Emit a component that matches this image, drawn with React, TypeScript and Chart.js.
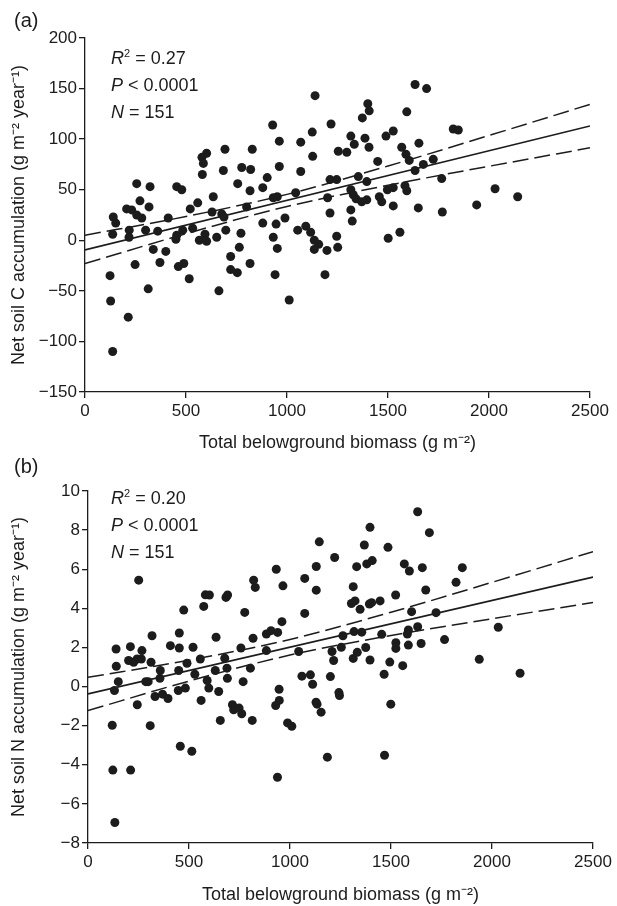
import React, { useEffect, useRef } from "react";
import { Chart, registerables } from "chart.js";

Chart.register(...registerables);

// ---------- Data ----------
// Panel (a): Net soil C accumulation vs total belowground biomass
const biomassA = [
  929, 1218, 962, 1125, 1068, 1316, 1254, 1296, 1127, 579, 602, 586, 693, 828, 581, 685, 776, 820, 962, 1068,
  902, 256, 322, 454, 479, 756, 817, 880, 1213, 1246, 1316, 635, 932, 952, 1043, 1201, 272, 317, 206, 231,
  256, 281, 140, 152, 412, 521, 558, 629, 677, 688, 800, 990, 880, 946, 1053, 1093, 1117, 1135, 1157, 1135,
  1198, 1246, 1251, 1316, 1323, 137, 219, 218, 300, 360, 454, 450, 484, 533, 566, 594, 602, 652, 697, 772,
  932, 952, 338, 400, 721, 764, 248, 371, 462, 489, 721, 754, 817, 124, 516, 941, 1188, 313, 663, 127,
  1011, 214, 137,
  1634, 1691, 1400, 1407, 1373, 1593, 1333, 1386, 1406, 1490, 1526, 1568, 1589, 1605, 1653, 1823, 1848, 1449,
  1724, 1675, 1634, 1353, 1395, 1766, 1328, 1342, 1370, 1395, 1457, 1469, 1497, 1526, 1584, 1593, 2030, 2142,
  1526, 1650, 1769, 1939, 1501, 1559, 1139, 1213,
];
const carbonA = [
  114, 115, 98, 107, 97, 103, 88, 87, 83, 82, 86, 76, 90, 90, 65, 69, 72, 70, 73, 68,
  62, 56, 53, 53, 50, 56, 49, 52, 60, 60, 50, 43, 42, 43, 47, 42, 39, 33, 31, 30,
  25, 22, 23, 17, 22, 31, 37, 28, 26, 23, 33, 22, 17, 16, 10, 14, 8, 0, -4, -9,
  -10, 4, -7, 30, 19, 6, 10, 3, 10, 9, 5, 1, 10, 12, 0, 6, -1, 3, 10, 7,
  3, -8, -9, -11, -16, -7, -24, -22, -26, -23, -29, -32, -23, -35, -38, -34, -34, -48, -50, -60,
  -59, -76, -110,
  154, 150, 135, 128, 121, 127, 95, 101, 92, 103, 108, 92, 85, 79, 96, 110, 109, 78,
  80, 75, 69, 63, 58, 61, 45, 41, 38, 40, 43, 38, 50, 52, 54, 49, 51, 43,
  34, 32, 28, 35, 2, 8, 143, 27,
];

// Panel (b): Net soil N accumulation vs total belowground biomass
const biomassB = [
  251, 474, 573, 581, 601, 683, 691, 776, 820, 828, 932, 965, 1073, 1130, 1130, 1145, 1221, 1304, 1073,
  317, 452, 408, 452, 520, 634, 757, 817, 883, 906, 939, 960, 883, 1043, 1208, 1216, 1254, 1262,
  139, 210, 201, 226, 243, 264, 267, 140, 312, 358, 449, 490, 556, 630, 677, 688, 804, 1059, 1101, 1200,
  1632, 1690, 1396, 1368, 1485, 1330, 1380, 1407, 1566, 1591, 1655, 1853, 1313, 1822, 1672, 1523, 1322,
  1347, 1393, 1404, 1446, 1602, 1723, 2031, 1317, 1355, 1454, 1586, 1581, 1632, 1765,
  1313, 1333, 1375, 1396, 1524, 1524, 1586, 1649, 1937, 2139, 150, 131, 286, 298, 356, 332, 369, 396, 244,
  447, 482, 529, 560, 590, 598, 647, 690, 655, 715, 721, 748, 761, 768, 813, 929, 946, 947, 988, 1009,
  1112, 1129, 1134, 1154, 1242, 1245, 1466, 1494, 1499, 1558, 120, 308, 457, 514, 1185, 1468, 123, 211,
  938, 133,
];
const nitrogenB = [
  5.44, 3.91, 4.1, 4.69, 4.68, 4.56, 4.68, 3.79, 5.44, 5.07, 6.0, 5.15, 5.53, 6.14, 4.93, 7.4, 6.6, 4.25, 3.74,
  2.6, 2.74, 2.09, 1.97, 2.01, 2.52, 1.97, 2.47, 2.69, 2.86, 2.77, 3.32, 1.84, 1.79, 1.79, 1.33, 2.01, 2.6,
  1.92, 2.04, 1.33, 1.24, 1.41, 1.41, 1.84, 1.04, 1.24, 0.82, 0.82, 1.19, 1.41, 0.82, 1.45, 0.94, 0.94, 0.53, 0.6, 0.51,
  8.94, 7.87, 8.14, 7.24, 7.12, 6.13, 6.27, 6.44, 6.27, 5.91, 6.08, 6.08, 5.11, 5.33, 4.94, 4.68, 4.38,
  3.95, 4.22, 4.29, 4.38, 3.83, 3.78, 3.03, 2.81, 2.78, 2.67, 2.89, 2.69, 3.06, 2.4,
  1.44, 1.75, 2.0, 1.36, 2.24, 1.95, 2.12, 2.2, 1.39, 0.68, 0.25, -0.2, 0.25, 0.25, 0.42, -0.51, -0.39, -0.61, -0.93,
  -0.2, -0.08, 0.63, -0.71, 0.31, -0.08, -0.25, 0.42, -1.73, -0.93, -1.19, -1.1, -1.39, 0.25, -1.73, -0.97, -0.14, -0.71, -1.86, -2.03,
  0.12, -0.8, -0.9, -1.31, -0.31, -0.46, 0.63, 1.25, -0.9, 1.07, -1.98, -2.0, -3.05, -3.31, -3.61, -3.51, -4.27, -4.27,
  -4.64, -6.95,
];

// Regression line (endpoints) and 95% confidence band
const fitX = [0, 2500];
const fitA = [-9.6, 113];
const fitB = [-0.38, 5.6];
const bandX = [0, 500, 1000, 1500, 2000, 2500];
const upperA = [5, 23.5, 45.4, 73.4, 103.6, 134.4];
const lowerA = [-23, 6.5, 33.4, 54.4, 73.2, 91.4];
const upperB = [0.47, 1.35, 2.41, 3.8, 5.33, 6.9];
const lowerB = [-1.23, 0.28, 1.61, 2.61, 3.47, 4.3];

// Tick labels
const xTicks = [0, 500, 1000, 1500, 2000, 2500];
const yTicksA = [-150, -100, -50, 0, 50, 100, 150, 200];
const yTicksB = [-8, -6, -4, -2, 0, 2, 4, 6, 8, 10];

const xTitle = "Total belowground biomass (g m\u207B\u00B2)";
const yTitleA = "Net soil C accumulation (g m\u207B\u00B2 year\u207B\u00B9)";
const yTitleB = "Net soil N accumulation (g m\u207B\u00B2 year\u207B\u00B9)";

// ---------- Styling ----------
const FONT = "'Liberation Sans', Arial, Helvetica, sans-serif";
const INK = "#1c1c1c";

type PanelProps = {
  xs: number[];
  ys: number[];
  fit: number[];
  upper: number[];
  lower: number[];
  yTicks: number[];
  yTitle: string;
  top: number;
  height: number;
  padTop: number;
  padRight: number;
  yAxisWidth: number;
  xAxisHeight: number;
  yTitlePad: number;
};

function toPts(xs: number[], ys: number[]) {
  return xs.map((x, i) => ({ x, y: ys[i] }));
}

function Panel(p: PanelProps) {
  const ref = useRef<HTMLCanvasElement | null>(null);
  useEffect(() => {
    if (!ref.current) return;
    const minus = (v: number | string) => String(v).replace("-", "\u2212");
    const lineDs = (data: any, dashed: boolean) => ({
      data,
      showLine: true,
      pointRadius: 0,
      borderColor: INK,
      borderWidth: dashed ? 1.5 : 1.7,
      borderDash: dashed ? [16, 6] : [],
      tension: dashed ? 0.4 : 0,
      cubicInterpolationMode: dashed ? "monotone" : "default",
      fill: false,
      order: 2,
    });
    const chart = new Chart(ref.current, {
      type: "scatter",
      data: {
        datasets: [
          {
            data: toPts(p.xs, p.ys),
            pointRadius: 4.5,
            pointBackgroundColor: INK,
            pointBorderColor: INK,
            pointBorderWidth: 0,
            order: 1,
          } as any,
          lineDs(toPts(fitX, p.fit), false),
          lineDs(toPts(bandX, p.upper), true),
          lineDs(toPts(bandX, p.lower), true),
        ],
      },
      options: {
        responsive: false,
        animation: false,
        layout: { padding: { left: 0, top: p.padTop, right: p.padRight, bottom: 0 } },
        plugins: { legend: { display: false }, tooltip: { enabled: false } },
        scales: {
          x: {
            type: "linear",
            min: xTicks[0],
            max: xTicks[xTicks.length - 1],
            afterBuildTicks: (s: any) => {
              s.ticks = xTicks.map((v) => ({ value: v }));
            },
            afterFit: (s: any) => {
              s.height = p.xAxisHeight;
            },
            ticks: {
              autoSkip: false,
              maxRotation: 0,
              padding: 3,
              color: INK,
              font: { family: FONT, size: 17 },
              callback: (v: any) => minus(v),
            },
            grid: { drawOnChartArea: false, drawTicks: true, tickLength: 6, color: INK, lineWidth: 1.3 },
            border: { display: true, color: INK, width: 1.3 },
            title: { display: true, text: xTitle, color: INK, font: { family: FONT, size: 18 }, padding: 0 },
          },
          y: {
            type: "linear",
            min: p.yTicks[0],
            max: p.yTicks[p.yTicks.length - 1],
            afterBuildTicks: (s: any) => {
              s.ticks = p.yTicks.map((v) => ({ value: v }));
            },
            afterFit: (s: any) => {
              s.width = p.yAxisWidth;
            },
            ticks: {
              autoSkip: false,
              padding: 2,
              color: INK,
              font: { family: FONT, size: 17 },
              callback: (v: any) => minus(v),
            },
            grid: { drawOnChartArea: false, drawTicks: true, tickLength: 6, color: INK, lineWidth: 1.3 },
            border: { display: true, color: INK, width: 1.3 },
            title: {
              display: true,
              text: p.yTitle,
              color: INK,
              font: { family: FONT, size: 18 },
              padding: { top: p.yTitlePad, bottom: 0 },
            },
          },
        },
      } as any,
    });
    return () => chart.destroy();
  }, []);
  return (
    <canvas
      ref={ref}
      width={617}
      height={p.height}
      style={{ position: "absolute", left: 0, top: p.top, width: 617, height: p.height }}
    />
  );
}

const statStyle: React.CSSProperties = {
  position: "absolute",
  left: 111,
  fontFamily: FONT,
  fontSize: 18,
  lineHeight: "27px",
  color: INK,
  whiteSpace: "nowrap",
};
const supStyle: React.CSSProperties = { fontSize: 11, verticalAlign: "7px", lineHeight: 0 };
const labelStyle: React.CSSProperties = {
  position: "absolute",
  left: 14,
  fontFamily: FONT,
  fontSize: 20,
  lineHeight: "24px",
  color: INK,
};

function Stats({ top, r2 }: { top: number; r2: string }) {
  return (
    <div style={{ ...statStyle, top }}>
      <div>
        <i>R</i>
        <span style={supStyle}>2</span> = {r2}
      </div>
      <div>
        <i>P</i> &lt; 0.0001
      </div>
      <div>
        <i>N</i> = 151
      </div>
    </div>
  );
}

export default function App() {
  return (
    <div style={{ position: "absolute", left: 0, top: 0, width: 617, height: 906, background: "#fff", overflow: "hidden" }}>
      <Panel
        xs={biomassA}
        ys={carbonA}
        fit={fitA}
        upper={upperA}
        lower={lowerA}
        yTicks={yTicksA}
        yTitle={yTitleA}
        top={0}
        height={454}
        padTop={38}
        padRight={27}
        yAxisWidth={85}
        xAxisHeight={62}
        yTitlePad={8}
      />
      <Panel
        xs={biomassB}
        ys={nitrogenB}
        fit={fitB}
        upper={upperB}
        lower={lowerB}
        yTicks={yTicksB}
        yTitle={yTitleB}
        top={454}
        height={452}
        padTop={37}
        padRight={24}
        yAxisWidth={88}
        xAxisHeight={63}
        yTitlePad={8}
      />
      <div style={{ ...labelStyle, top: 8 }}>(a)</div>
      <div style={{ ...labelStyle, top: 454 }}>(b)</div>
      <Stats top={45} r2="0.27" />
      <Stats top={485} r2="0.20" />
    </div>
  );
}
